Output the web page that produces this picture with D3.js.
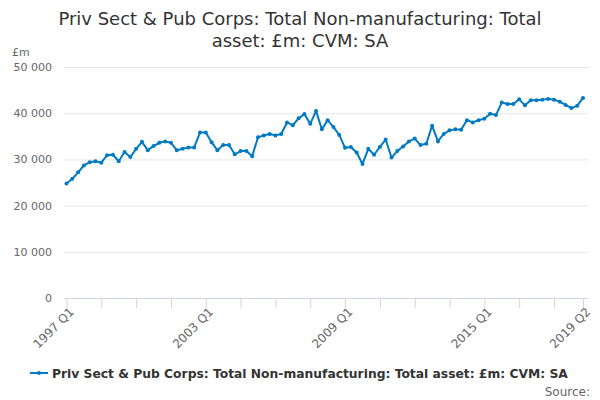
<!DOCTYPE html>
<html lang="en">
<head>
  <meta charset="UTF-8">
  <title>Total Non-manufacturing assets</title>
  <script src="https://d3js.org/d3.v7.min.js"></script>
  <style>
    body { margin: 0; background: #fff; }
    text { font-family: "DejaVu Sans", sans-serif; }
  </style>
</head>
<body>
  <script>
    // quarters 1997 Q1 .. 2019 Q2
    var quarters = [];
    for (var yr = 1997; yr <= 2019; yr++) {
      for (var q = 1; q <= 4; q++) {
        if (yr === 2019 && q > 2) break;
        quarters.push(yr + " Q" + q);
      }
    }

    // £m
    var values = [
      24800, 25800, 27200, 28700, 29400, 29600, 29300, 30900, 31000, 29600,
      31600, 30500, 32300, 33800, 32000, 32900, 33600, 33900, 33600, 32000,
      32300, 32600, 32600, 35800, 35800, 33700, 32000, 33100, 33100, 31100,
      31800, 31800, 30700, 34800, 35200, 35500, 35200, 35500, 38000, 37400,
      38900, 39800, 37700, 40500, 36500, 38500, 37000, 35300, 32500, 32700,
      31500, 29000, 32300, 31000, 32700, 34300, 30400, 31800, 32800, 33900,
      34500, 33100, 33400, 37300, 33900, 35500, 36300, 36500, 36400, 38500,
      38000, 38500, 38800, 39900, 39600, 42300, 42000, 42000, 43000, 41700,
      42800, 42800, 42900, 43100, 42900, 42500, 41800, 41100, 41600, 43300
    ];

    var xTickLabels = ["1997 Q1", "1998 Q3", "2000 Q1", "2001 Q3", "2003 Q1", "2004 Q3",
      "2006 Q1", "2007 Q3", "2009 Q1", "2010 Q3", "2012 Q1", "2013 Q3", "2015 Q1",
      "2016 Q3", "2018 Q1", "2019 Q2"];
    var xShownLabels = ["1997 Q1", "2003 Q1", "2009 Q1", "2015 Q1", "2019 Q2"];
    var yTicks = [0, 10000, 20000, 30000, 40000, 50000];

    var seriesName = "Priv Sect & Pub Corps: Total Non-manufacturing: Total asset: £m: CVM: SA";
    var titleLines = ["Priv Sect & Pub Corps: Total Non-manufacturing: Total", "asset: £m: CVM: SA"];

    const width = 600, height = 400;
    const lineColor = "#007ac3";

    var svg = d3.select("body").append("svg")
      .attr("width", width)
      .attr("height", height);

    var data = quarters.map(function (d, i) { return { q: d, v: values[i] }; });

    const xScale = d3.scalePoint()
      .domain(quarters)
      .range([66.5, 583]);

    const yScale = d3.scaleLinear()
      .domain([0, 50000])
      .range([298, 67]);

    var fmt = d3.formatLocale({ decimal: ".", thousands: " ", grouping: [3], currency: ["£", ""] }).format(",");

    // title
    svg.append("text")
      .attr("x", 300)
      .attr("y", 25)
      .attr("text-anchor", "middle")
      .style("font-size", "18px")
      .style("fill", "#333")
      .selectAll("tspan")
      .data(titleLines)
      .enter().append("tspan")
      .attr("x", 300)
      .attr("dy", (d, i) => i === 0 ? 0 : 22)
      .text(d => d);

    // unit label
    svg.append("text")
      .attr("x", 12)
      .attr("y", 56)
      .style("font-size", "11px")
      .style("fill", "#666")
      .text("£m");

    // grid + y labels
    var yAxis = svg.append("g")
      .attr("transform", "translate(64,0)")
      .call(d3.axisLeft(yScale).tickValues(yTicks).tickSize(-524).tickFormat(fmt));
    yAxis.select(".domain").remove();
    yAxis.selectAll(".tick line").attr("stroke", "#e6e6e6");
    yAxis.selectAll(".tick text")
      .attr("x", -12)
      .attr("dy", "0.32em")
      .style("font-size", "11px")
      .style("font-family", "DejaVu Sans, sans-serif")
      .style("fill", "#666");

    // x axis
    var xAxis = svg.append("g")
      .attr("transform", "translate(0,298)")
      .call(d3.axisBottom(xScale).tickValues(xTickLabels).tickSize(10).tickSizeOuter(0)
        .tickFormat(d => xShownLabels.indexOf(d) >= 0 ? d : ""));
    xAxis.select(".domain").attr("stroke", "#ccd6eb").attr("d", "M64,0.5H588");
    xAxis.selectAll(".tick line").attr("stroke", "#ccd6eb");
    xAxis.selectAll(".tick text")
      .attr("text-anchor", "end")
      .attr("transform", "translate(5,12) rotate(-45)")
      .attr("dy", "0.32em")
      .attr("y", 0)
      .style("font-size", "12px")
      .style("font-family", "DejaVu Sans, sans-serif")
      .style("fill", "#666");

    // line
    var line = d3.line()
      .x(d => xScale(d.q))
      .y(d => yScale(d.v));

    svg.append("path")
      .datum(data)
      .attr("fill", "none")
      .attr("stroke", lineColor)
      .attr("stroke-width", 2)
      .attr("stroke-linejoin", "round")
      .attr("d", line);

    svg.selectAll("circle.pt")
      .data(data)
      .enter().append("circle")
      .attr("class", "pt")
      .attr("cx", d => xScale(d.q))
      .attr("cy", d => yScale(d.v))
      .attr("r", 2)
      .attr("fill", lineColor);

    // legend
    var legend = svg.append("g").attr("transform", "translate(30,373)");
    legend.append("line")
      .attr("x1", 0).attr("x2", 18)
      .attr("y1", 0).attr("y2", 0)
      .attr("stroke", lineColor)
      .attr("stroke-width", 2);
    legend.append("circle")
      .attr("cx", 9).attr("cy", 0).attr("r", 2)
      .attr("fill", lineColor);
    legend.append("text")
      .attr("x", 22)
      .attr("y", 4.5)
      .style("font-size", "12.3px")
      .style("font-weight", "bold")
      .style("fill", "#333")
      .text(seriesName);

    // source
    svg.append("text")
      .attr("x", 590)
      .attr("y", 396)
      .attr("text-anchor", "end")
      .style("font-size", "12px")
      .style("fill", "#666")
      .text("Source:");
  </script>
</body>
</html>
